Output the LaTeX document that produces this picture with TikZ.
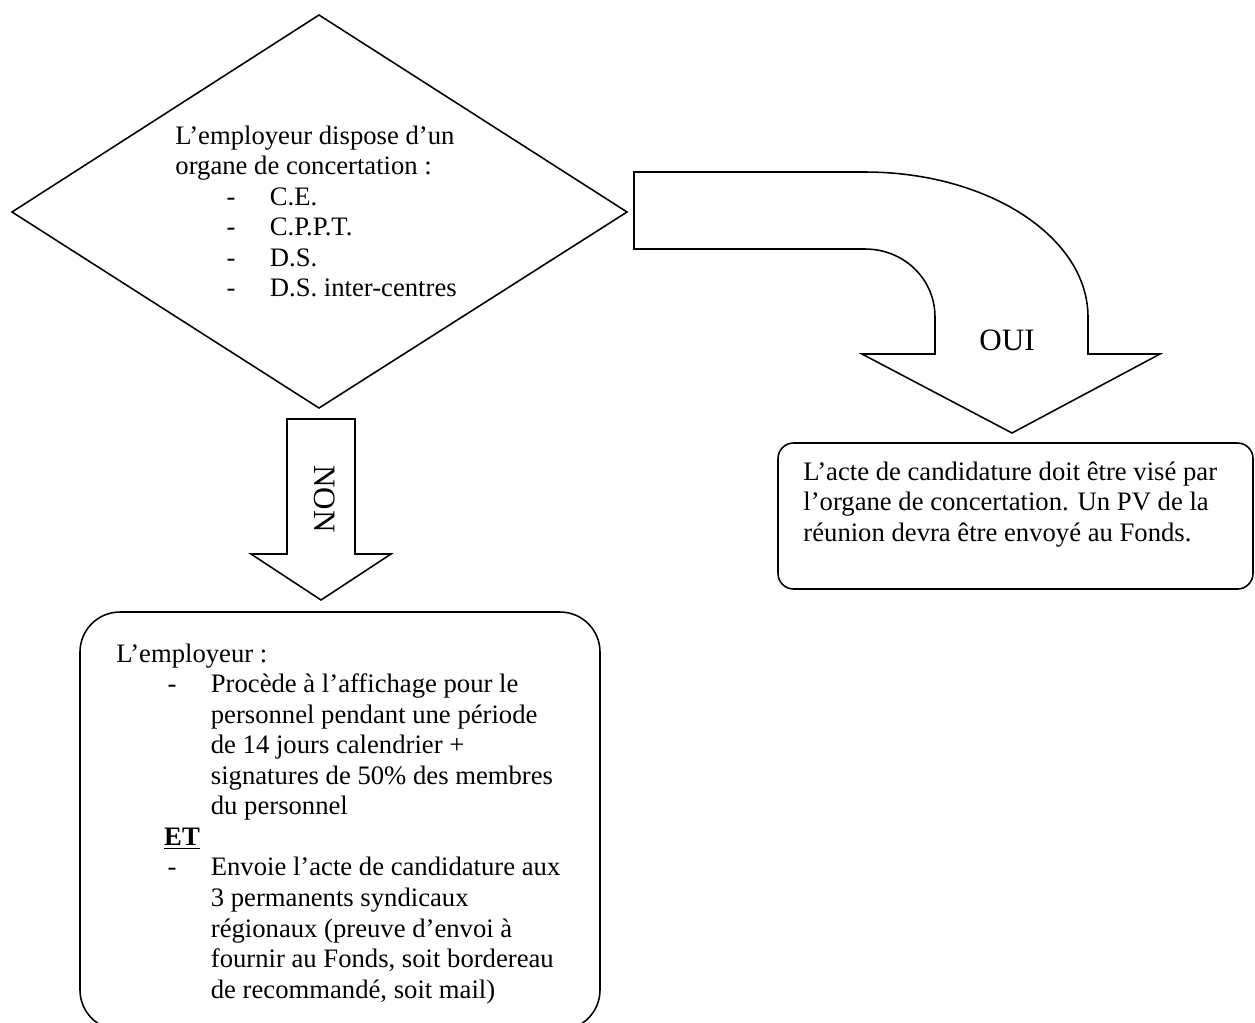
\documentclass[tikz,border=0pt]{standalone}
\usepackage{fontspec}
\setmainfont{Liberation Serif}

\newcommand{\tiret}{\hspace*{23pt}\makebox[19.5pt][l]{-}}
\newcommand{\suite}{\hspace*{42.5pt}}

\tikzset{
    forme/.style={draw, line width=0.7pt, line join=miter},
    texte/.style={inner sep=0pt, anchor=base west, font=\fontsize{12}{13.75}\selectfont},
    reponse/.style={inner sep=0pt, font=\fontsize{14}{16}\selectfont}
}

\begin{document}
\begin{tikzpicture}[x=0.45pt, y=-0.45pt]
        \useasboundingbox (0,0) rectangle (1255,1023);

        % Losange de la question
        \draw[forme] (319,15) -- (627,212) -- (319,408) -- (12,212) -- cycle;
        \node[texte] (question) at (175,144) {\begin{tabular}[t]{@{}l@{}}
            L’employeur dispose d’un\\
            organe de concertation :\\
            \tiret C.E.\\
            \tiret C.P.P.T.\\
            \tiret D.S.\\
            \tiret D.S. inter-centres
        \end{tabular}};

        % Fleche OUI
        \draw[forme] (634,172) -- (865,172) .. controls (988,172) and (1088,237) .. (1088,317)
            -- (1088,354) -- (1160,354) -- (1012,433) -- (862,354) -- (935,354) -- (935,317)
            .. controls (935,279) and (904,249) .. (865,249) -- (634,249) -- cycle;
        \node[reponse] (oui) at (1007,340) {OUI};

        % Fleche NON
        \draw[forme] (287,419) -- (355,419) -- (355,554) -- (391,554) -- (321,600)
            -- (251,554) -- (287,554) -- cycle;
        \node[reponse, rotate=-90] (non) at (325,499) {NON};

        % Boites
        \draw[forme, rounded corners=7pt] (778,443) rectangle (1253,589);
        \node[texte] (visa) at (803,480) {\begin{tabular}[t]{@{}l@{}}
            L’acte de candidature doit être visé par\\
            l’organe de concertation. Un PV de la\\
            réunion devra être envoyé au Fonds.
        \end{tabular}};

        \draw[forme, rounded corners=18pt] (80,612) rectangle (600,1030);
        \node[texte] (affichage) at (116,662) {\begin{tabular}[t]{@{}l@{}}
            L’employeur :\\
            \tiret Procède à l’affichage pour le\\
            \suite personnel pendant une période\\
            \suite de 14 jours calendrier +\\
            \suite signatures de 50\% des membres\\
            \suite du personnel\\
            \hspace*{21.5pt}\textbf{\underline{ET}}\\
            \tiret Envoie l’acte de candidature aux\\
            \suite 3 permanents syndicaux\\
            \suite régionaux (preuve d’envoi à\\
            \suite fournir au Fonds, soit bordereau\\
            \suite de recommandé, soit mail)
        \end{tabular}};
\end{tikzpicture}
\end{document}
